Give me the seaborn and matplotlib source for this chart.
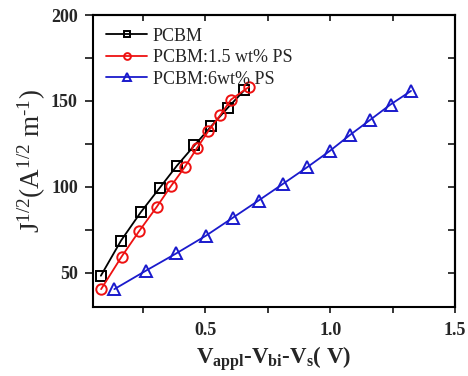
import matplotlib
matplotlib.use("Agg")
import matplotlib.pyplot as plt
import seaborn as sns
import pandas as pd
from matplotlib.ticker import MultipleLocator, FormatStrFormatter

# Data
x_pcbm = [0.081, 0.162, 0.241, 0.317, 0.386, 0.456, 0.523, 0.589, 0.656]
y_pcbm = [48.2, 68.7, 85.2, 99.4, 112.3, 124.1, 135.2, 145.9, 156.2]

x_ps15 = [0.082, 0.164, 0.234, 0.304, 0.361, 0.417, 0.466, 0.512, 0.559, 0.603, 0.675]
y_ps15 = [40.4, 59.3, 74.1, 88.1, 100.2, 111.4, 122.5, 132.5, 141.6, 150.8, 158.2]

x_ps6 = [0.135, 0.261, 0.383, 0.503, 0.609, 0.713, 0.812, 0.908, 0.998, 1.078, 1.158, 1.242, 1.324]
y_ps6 = [40.4, 51.1, 61.2, 71.6, 81.9, 92.0, 101.8, 111.4, 120.8, 130.0, 138.7, 147.9, 155.8]

labels = ["PCBM", "PCBM:1.5 wt% PS", "PCBM:6wt% PS"]
colors = ["black", "#ee1111", "#1a1acc"]
markers = ["s", "o", "^"]

sns.set_style("white")
plt.rcParams['font.family'] = ['Liberation Serif', 'DejaVu Serif']
plt.rcParams['mathtext.fontset'] = 'custom'
plt.rcParams['mathtext.rm'] = 'Liberation Serif'
plt.rcParams['mathtext.bf'] = 'Liberation Serif:bold'
plt.rcParams['mathtext.it'] = 'Liberation Serif:italic'

fig = plt.figure(figsize=(4.68, 3.76), dpi=100)
ax = fig.add_axes([0.199, 0.1835, 0.773, 0.7765])

series = [(x_pcbm, y_pcbm), (x_ps15, y_ps15), (x_ps6, y_ps6)]
msizes = [7, 7.5, 8]
for (xs, ys), lab, c, m, ms in zip(series, labels, colors, markers, msizes):
    df = pd.DataFrame({"x": xs, "y": ys})
    sns.lineplot(data=df, x="x", y="y", ax=ax, color=c, marker=m, markersize=ms,
                 markerfacecolor="none", markeredgecolor=c, markeredgewidth=1.4,
                 linewidth=1.3, label=lab, sort=False)

ax.set_xlim(0.05, 1.5)
ax.set_ylim(30, 200)
ax.xaxis.set_major_locator(MultipleLocator(0.5))
ax.xaxis.set_minor_locator(MultipleLocator(0.25))
ax.yaxis.set_major_locator(MultipleLocator(50))
ax.yaxis.set_minor_locator(MultipleLocator(25))
ax.xaxis.set_major_formatter(FormatStrFormatter('%.1f'))
ax.yaxis.set_major_formatter(FormatStrFormatter('%d'))

for s in ax.spines.values():
    s.set_linewidth(1.5)
    s.set_color("black")

ax.tick_params(which="both", bottom=True, left=True, top=False, right=False,
               direction="out", width=1.3, labelsize=13)
ax.tick_params(axis="x", which="both", length=4.5)
ax.tick_params(axis="y", which="both", length=6)
ax.tick_params(axis="x", which="major", pad=6)
ax.tick_params(axis="y", which="major", pad=5)
for lbl in ax.get_xticklabels() + ax.get_yticklabels():
    lbl.set_fontweight("bold")

# inward mirror ticks on top and right
sec_x = ax.secondary_xaxis('top')
sec_x.xaxis.set_major_locator(MultipleLocator(0.25))
sec_x.tick_params(direction="in", length=4.5, width=1.3, labeltop=False)
sec_y = ax.secondary_yaxis('right')
sec_y.yaxis.set_major_locator(MultipleLocator(25))
sec_y.tick_params(direction="in", length=5, width=1.3, labelright=False)
sec_x.spines['top'].set_linewidth(1.5)
sec_y.spines['right'].set_linewidth(1.5)

ax.set_xlabel(r'$\mathbf{V_{appl}}$-$\mathbf{V_{bi}}$-$\mathbf{V_{s}}$( V)',
              fontsize=16.5, fontweight="bold", labelpad=4)
ax.set_ylabel(r'J$^{1/2}$(A$^{1/2}$ m$^{\text{-}1}$)', fontsize=19.5, labelpad=2)

leg = ax.legend(loc="upper left", frameon=False, fontsize=13, handlelength=2.3,
                handletextpad=0.3, labelspacing=0.25, borderaxespad=0.3,
                markerscale=0.65, bbox_to_anchor=(0.0, 1.0))

fig.savefig("out.png", dpi=100)
